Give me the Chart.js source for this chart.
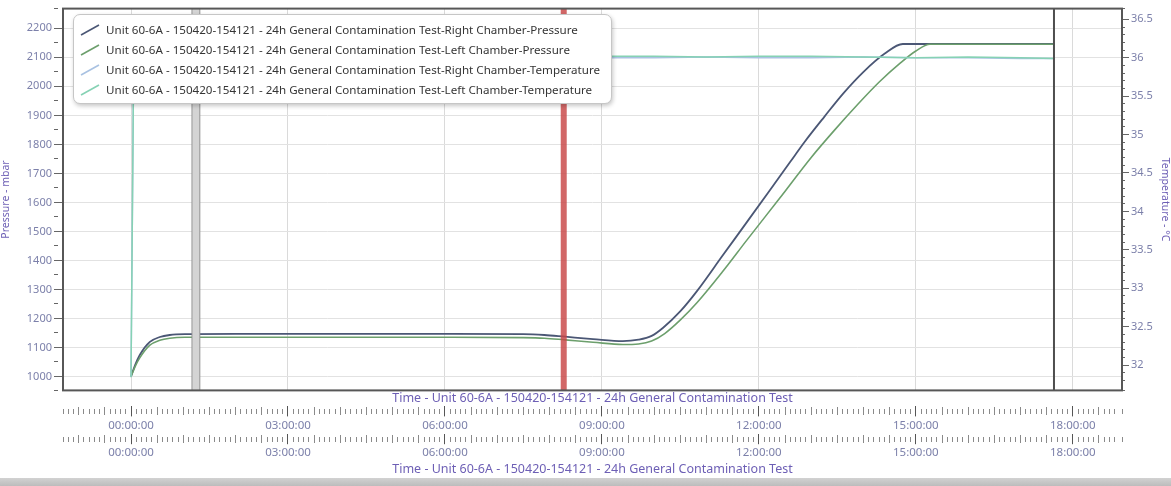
<!DOCTYPE html>
<html><head><meta charset="utf-8">
<script src="https://cdn.jsdelivr.net/npm/chart.js@4.4.1/dist/chart.umd.min.js"></script>
<style>
html,body{margin:0;padding:0;background:#fff;width:1171px;height:486px;overflow:hidden;font-family:"Noto Sans",sans-serif}
#wrap{position:relative;width:1171px;height:478px}
#bar{position:absolute;left:0;top:478px;width:1171px;height:8px;background:linear-gradient(#d2d2d2,#bcbcbc)}
#legend{position:absolute;left:73px;top:14px;width:539px;height:90px;border:1px solid #c6c6c6;border-radius:7px;background:#fff;box-shadow:1px 2px 4px rgba(0,0,0,0.22);box-sizing:border-box;padding-top:5px}
.row{height:20px;line-height:20px;font-size:11.6px;color:#353535;white-space:nowrap;position:relative;padding-left:32px}
.row svg{position:absolute;left:6px;top:4px}
</style></head>
<body>
<div id="wrap"><canvas id="c" width="1171" height="478"></canvas><div id="legend"></div></div>
<div id="bar"></div>
<script>
// ---- data (time in hours since start) ----
const seriesLabels = [
  'Unit 60-6A - 150420-154121 - 24h General Contamination Test-Right Chamber-Pressure',
  'Unit 60-6A - 150420-154121 - 24h General Contamination Test-Left Chamber-Pressure',
  'Unit 60-6A - 150420-154121 - 24h General Contamination Test-Right Chamber-Temperature',
  'Unit 60-6A - 150420-154121 - 24h General Contamination Test-Left Chamber-Temperature'
];
const axisTitleTime = 'Time - Unit 60-6A - 150420-154121 - 24h General Contamination Test';
const xTickLabels = ['00:00:00','03:00:00','06:00:00','09:00:00','12:00:00','15:00:00','18:00:00'];
const yPressureTicks = [1000,1100,1200,1300,1400,1500,1600,1700,1800,1900,2000,2100,2200];
const yTempTicks = [32,32.5,33,33.5,34,34.5,35,35.5,36,36.5];

const rightPressureTime = [0,0.08,0.17,0.36,0.55,0.74,1.03,2,4,6,7.5,7.9,8.3,8.83,9.4,9.7,9.95,10.17,10.5,10.82,11.3,11.77,12.21,12.6,12.88,13.25,13.61,14.0,14.4,14.75,16,17.64];
const rightPressure     = [1000,1040,1075,1119,1136,1143,1146,1147,1147,1147,1146,1143,1137,1129,1122,1127,1140,1168,1225,1295,1415,1532,1642,1740,1810,1895,1975,2050,2112,2146,2146,2146];
const leftPressureTime  = [0,0.08,0.17,0.36,0.55,0.74,1.03,2,4,6,7.5,7.9,8.3,8.83,9.4,9.7,9.95,10.2,10.5,10.82,11.3,11.77,12.4,13.0,13.45,13.9,14.3,14.7,15.0,15.27,16,17.64];
const leftPressure      = [1000,1035,1065,1108,1125,1132,1135,1135,1135,1135,1134,1132,1126,1118,1110,1112,1122,1148,1195,1255,1360,1470,1615,1755,1850,1940,2015,2080,2122,2145,2145,2145];
const tempTime  = [0,0.05,0.1,1,2,3,4,5,6,7,8,9,10,11,12,13,14,15,16,17,17.64];
const rightTemp = [31.85,35.9,36.0,36.01,36.0,36.01,36.0,36.01,36.0,36.0,36.01,36.0,36.0,36.01,36.0,36.0,36.01,36.0,36.0,35.99,35.99];
const leftTemp  = [31.84,35.92,36.02,36.02,36.01,36.02,36.02,36.01,36.02,36.02,36.01,36.02,36.02,36.01,36.02,36.02,36.01,36.0,36.01,36.0,35.99];
const cursorGrayTimes = [1.17,1.31];
const cursorRedTime = 8.27;
const cursorBlackTime = 17.64;

const xRange = [-1.30, 18.94];
const pressureRange = [952, 2268];
const tempRange = [31.67, 36.64];

const seriesColors = ['#4b5775','#6c9f6c','#a9c2e2','#86d2b4'];

// ---- legend (HTML) ----
const leg = document.getElementById('legend');
seriesLabels.forEach((l,i)=>{
  const r = document.createElement('div'); r.className='row';
  r.innerHTML = '<svg width="20" height="12"><line x1="1" y1="11" x2="19" y2="1" stroke="'+seriesColors[i]+'" stroke-width="1.6"/></svg>';
  r.appendChild(document.createTextNode(l));
  leg.appendChild(r);
});

const pts = (xs, ys) => xs.map((x,i)=>({x, y: ys[i]}));
const vline = (t) => [{x:t, y:pressureRange[0]}, {x:t, y:pressureRange[1]}];
const near = (v, step) => Math.abs(v/step - Math.round(v/step)) < 1e-6;

Chart.defaults.font.family = '"Noto Sans", sans-serif';
const labelColor = '#7c80aa';
const titleColor = '#6d5fb5';

const framePlugin = {id:'frame', afterDatasetsDraw(chart){
  const {ctx, chartArea:a} = chart; ctx.save();
  ctx.strokeStyle='#575757'; ctx.lineWidth=2;
  ctx.strokeRect(a.left, a.top, a.right-a.left, a.bottom-a.top); ctx.restore();
}};

const bottomTicks = (kind) => ({
  type:'linear', position:'bottom', min:xRange[0], max:xRange[1],
  grid:{display:true, drawOnChartArea: kind==='main', drawTicks:true, tickLength:10,
    color: c => near(c.tick.value,3) ? '#dadada' : 'rgba(0,0,0,0)',
    lineWidth: 1,
    tickColor: c => near(c.tick.value,3) ? '#555' : '#8a8a8a',
    tickWidth: 1,
    tickBorderDash: c => near(c.tick.value,3) ? [] : (near(c.tick.value,0.5) ? [0,1,8,40] : [0,3,5,40])},
  border:{display:false},
  ticks:{stepSize:0.1, autoSkip:false, maxRotation:0, minRotation:0, padding:2, color:labelColor, font:{size:11.5},
    callback: v => (near(v,3) && v>=0) ? (xTickLabels[Math.round(v/3)]||'') : ''}
});

const xMain = bottomTicks('main'); xMain.weight = 1;
const x2 = bottomTicks('second'); x2.weight = 2;
x2.title = {display:true, text:axisTitleTime, color:titleColor, font:{size:12.5}, padding:{top:0,bottom:1}};

new Chart(document.getElementById('c'), {
  type:'line',
  data:{datasets:[
    {label:'cursorBand', data:vline((cursorGrayTimes[0]+cursorGrayTimes[1])/2), borderColor:'#d4d4d4', borderWidth:7, pointRadius:0, xAxisID:'x', yAxisID:'y', order:-1},
    {label:'cursorG1', data:vline(cursorGrayTimes[0]), borderColor:'#8e8e8e', borderWidth:1.5, pointRadius:0, xAxisID:'x', yAxisID:'y', order:-1},
    {label:'cursorG2', data:vline(cursorGrayTimes[1]), borderColor:'#8e8e8e', borderWidth:1.5, pointRadius:0, xAxisID:'x', yAxisID:'y', order:-1},
    {label:'cursorRed', data:vline(cursorRedTime), borderColor:'rgba(200,70,70,0.82)', borderWidth:6, pointRadius:0, xAxisID:'x', yAxisID:'y', order:-1},
    {label:'cursorBlack', data:vline(cursorBlackTime), borderColor:'#4e4e4e', borderWidth:2, pointRadius:0, xAxisID:'x', yAxisID:'y', order:-1},
    {label:seriesLabels[3], data:pts(tempTime,leftTemp), borderColor:seriesColors[3], borderWidth:1.5, pointRadius:0, tension:0, xAxisID:'x', yAxisID:'yT'},
    {label:seriesLabels[2], data:pts(tempTime,rightTemp), borderColor:seriesColors[2], borderWidth:1.5, pointRadius:0, tension:0, xAxisID:'x', yAxisID:'yT'},
    {label:seriesLabels[1], data:pts(leftPressureTime,leftPressure), borderColor:seriesColors[1], borderWidth:1.6, pointRadius:0, cubicInterpolationMode:'monotone', xAxisID:'x', yAxisID:'y'},
    {label:seriesLabels[0], data:pts(rightPressureTime,rightPressure), borderColor:seriesColors[0], borderWidth:1.8, pointRadius:0, cubicInterpolationMode:'monotone', xAxisID:'x', yAxisID:'y'}
  ]},
  options:{
    responsive:false, animation:false, devicePixelRatio:1,
    layout:{padding:{top:5,left:0,right:0,bottom:0}},
    plugins:{legend:{display:false}, tooltip:{enabled:false}},
    scales:{
      xTitle:{type:'linear', position:'bottom', weight:0, grid:{display:false, drawTicks:false}, border:{display:false},
        ticks:{display:false}, title:{display:true, text:axisTitleTime, color:titleColor, font:{size:12.5}, padding:{top:1,bottom:0}}},
      x: xMain,
      x2: x2,
      y:{type:'linear', position:'left', min:pressureRange[0], max:pressureRange[1],
        afterFit: s => { s.width = 63; },
        border:{display:false},
        grid:{color: c => near(c.tick.value,100) ? '#e2e2e2' : 'rgba(0,0,0,0)', tickLength:9,
          tickColor:'#666', tickBorderDash: c => near(c.tick.value,100) ? [] : [4,40]},
        ticks:{stepSize:50, autoSkip:false, padding:2, color:labelColor, font:{size:11},
          callback: v => yPressureTicks.find(t => Math.abs(t-v)<1e-6) !== undefined ? String(v) : ''},
        title:{display:true, text:'Pressure - mbar', color:titleColor, font:{size:10.5}, padding:{top:0,bottom:0}}},
      yT:{type:'linear', position:'right', min:tempRange[0], max:tempRange[1],
        afterFit: s => { s.width = 49; },
        border:{display:false},
        grid:{drawOnChartArea:false, tickLength:7, tickColor:'#666',
          tickBorderDash: c => near(c.tick.value,0.5) ? [] : [3,40]},
        ticks:{stepSize:0.1, autoSkip:false, padding:2, color:labelColor, font:{size:11},
          callback: v => { const m = yTempTicks.find(t => Math.abs(t-v)<1e-6); return m !== undefined ? String(m) : ''; }},
        title:{display:true, text:'Temperature - °C', color:titleColor, font:{size:10.5}, padding:{top:0,bottom:2}}}
    }
  },
  plugins:[framePlugin]
});
</script>
</body></html>
